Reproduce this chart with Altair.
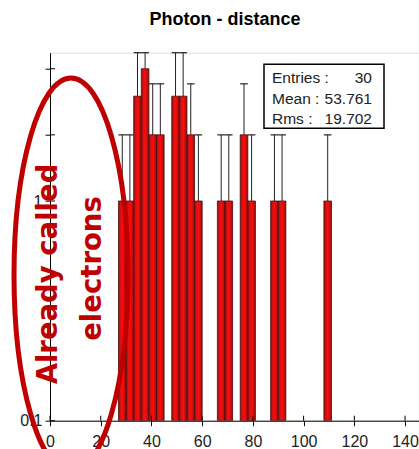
import altair as alt
import pandas as pd

title_text = "Photon - distance"
bin_start = [27, 30, 33, 36, 39, 42, 48, 51, 54, 57, 66, 69, 75, 78, 87, 90, 108]
counts = [1, 1, 3, 4, 2, 2, 3, 3, 2, 1, 1, 1, 2, 1, 1, 1, 1]
bin_width = 3
x_ticks = [0, 20, 40, 60, 80, 100, 120, 140]
y_ticks = [0.1, 1, 2, 4]
stats_labels = ["Entries :", "Mean :", "Rms :"]
stats_values = ["30", "53.761", "19.702"]
note_lines = ["Already called", "electrons"]

W, H = 369, 368
FONT = "Liberation Sans"
RED = "#c00000"

df = pd.DataFrame({"start": bin_start, "count": counts})
df["end"] = df["start"] + bin_width

xs = alt.Scale(domain=[0, 145.5], nice=False, zero=False)
ys = alt.Scale(type="log", domain=[0.1, 4.732], nice=False, clamp=True)

grad = alt.Gradient(
    gradient="linear",
    stops=[
        alt.GradientStop(color="#8a1515", offset=0),
        alt.GradientStop(color="#e01010", offset=0.3),
        alt.GradientStop(color="#ff0a0a", offset=0.55),
        alt.GradientStop(color="#8a1515", offset=1),
    ],
    x1=0, x2=1, y1=0, y2=0,
)

x_axis = alt.Axis(values=x_ticks, format="d", title=None, grid=False,
                  labelFont=FONT, labelFontSize=16, labelColor="#222",
                  domainColor="black", tickColor="black", tickSize=5,
                  labelPadding=8, labelFlush=False, labelOverlap=False)
y_axis = alt.Axis(values=y_ticks, title=None, grid=False,
                  labelExpr="datum.value == 0.1 ? '0.1' : (datum.value == 1 ? '1' : '')",
                  labelFont=FONT, labelFontSize=16, labelColor="#222",
                  domainColor="black", tickColor="black", tickSize=5,
                  labelPadding=3, labelOverlap=False)

err_base = alt.Chart(df).transform_calculate(
    lo="max(datum.count - sqrt(datum.count), 0.1)",
    hi="datum.count + sqrt(datum.count)",
    mid="(datum.start + datum.end) / 2",
)
err_lines = err_base.mark_rule(color="#222", strokeWidth=1).encode(
    x=alt.X("mid:Q", scale=xs, axis=x_axis),
    y=alt.Y("lo:Q", scale=ys, axis=y_axis),
    y2="hi:Q",
)
err_caps = err_base.mark_rule(color="#222", strokeWidth=1.2).encode(
    x=alt.X("start:Q", scale=xs, axis=x_axis),
    x2="end:Q",
    y=alt.Y("hi:Q", scale=ys, axis=y_axis),
)

bars = alt.Chart(df).mark_bar(fill=grad, stroke="#4a0c0c", strokeWidth=0.8, clip=True).encode(
    x=alt.X("start:Q", scale=xs, axis=x_axis),
    x2="end:Q",
    y=alt.Y("count:Q", scale=ys, axis=y_axis),
    y2=alt.datum(0.1),
)

xt = alt.Chart(pd.DataFrame({"v": x_ticks})).mark_rule(color="black").encode(
    x=alt.X("v:Q", scale=xs, axis=x_axis), y=alt.value(H), y2=alt.value(H - 5))
yt = alt.Chart(pd.DataFrame({"v": y_ticks})).mark_rule(color="black").encode(
    y=alt.Y("v:Q", scale=ys, axis=y_axis), x=alt.value(0), x2=alt.value(5))

one = pd.DataFrame({"a": [0]})
box = alt.Chart(one).mark_rect(fill="white", stroke="black", strokeWidth=1.5).encode(
    x=alt.value(214), x2=alt.value(334), y=alt.value(11.5), y2=alt.value(75.5))

stat_layers = []
for i, (lab, val) in enumerate(zip(stats_labels, stats_values)):
    d = pd.DataFrame({"lab": [lab], "val": [val]})
    yb = 30 + i * 20.8
    stat_layers.append(alt.Chart(d).mark_text(align="left", baseline="alphabetic", font=FONT,
                                              fontSize=15.5, color="#222").encode(
        x=alt.value(222), y=alt.value(yb), text="lab:N"))
    stat_layers.append(alt.Chart(d).mark_text(align="right", baseline="alphabetic", font=FONT,
                                              fontSize=15.5, color="#222").encode(
        x=alt.value(322), y=alt.value(yb), text="val:N"))

# ellipse annotation (custom symbol path, unit coordinates)
rx = 57 / 197.0
k = 0.5523
ell_path = (f"M 0 -1 C {k*rx:.4f} -1 {rx:.4f} {-k:.4f} {rx:.4f} 0 "
            f"C {rx:.4f} {k:.4f} {k*rx:.4f} 1 0 1 "
            f"C {-k*rx:.4f} 1 {-rx:.4f} {k:.4f} {-rx:.4f} 0 "
            f"C {-rx:.4f} {-k:.4f} {-k*rx:.4f} -1 0 -1 Z")
ellipse = alt.Chart(one).mark_point(shape=ell_path, filled=False, stroke=RED, strokeWidth=5,
                                    opacity=1, clip=False).encode(
    x=alt.value(21), y=alt.value(222.3), size=alt.value((2 * 197) ** 2))

note_pos = [(7, 221.3), (51, 215.8)]
note_layers = []
for line, (px, py) in zip(note_lines, note_pos):
    note_layers.append(alt.Chart(pd.DataFrame({"t": [line]})).mark_text(
        angle=270, align="center", baseline="alphabetic", font="DejaVu Sans",
        fontWeight="bold", fontSize=27.5, color=RED, clip=False).encode(
        x=alt.value(px), y=alt.value(py), text="t:N"))

chart = alt.layer(err_lines, err_caps, bars, xt, yt, box, *stat_layers, ellipse, *note_layers).properties(
    width=W, height=H,
    title=alt.Title(title_text, font=FONT, fontSize=18, fontWeight="bold", color="black",
                    anchor="middle", frame="group", dx=-9.5, offset=23),
    autosize=alt.AutoSizeParams(type="none"),
    padding={"left": 50, "top": 52.7, "right": 0, "bottom": 28.3},
).configure_view(stroke=None).configure(background="white")

chart.save("out.html", embed_options={"renderer": "svg", "actions": False})
